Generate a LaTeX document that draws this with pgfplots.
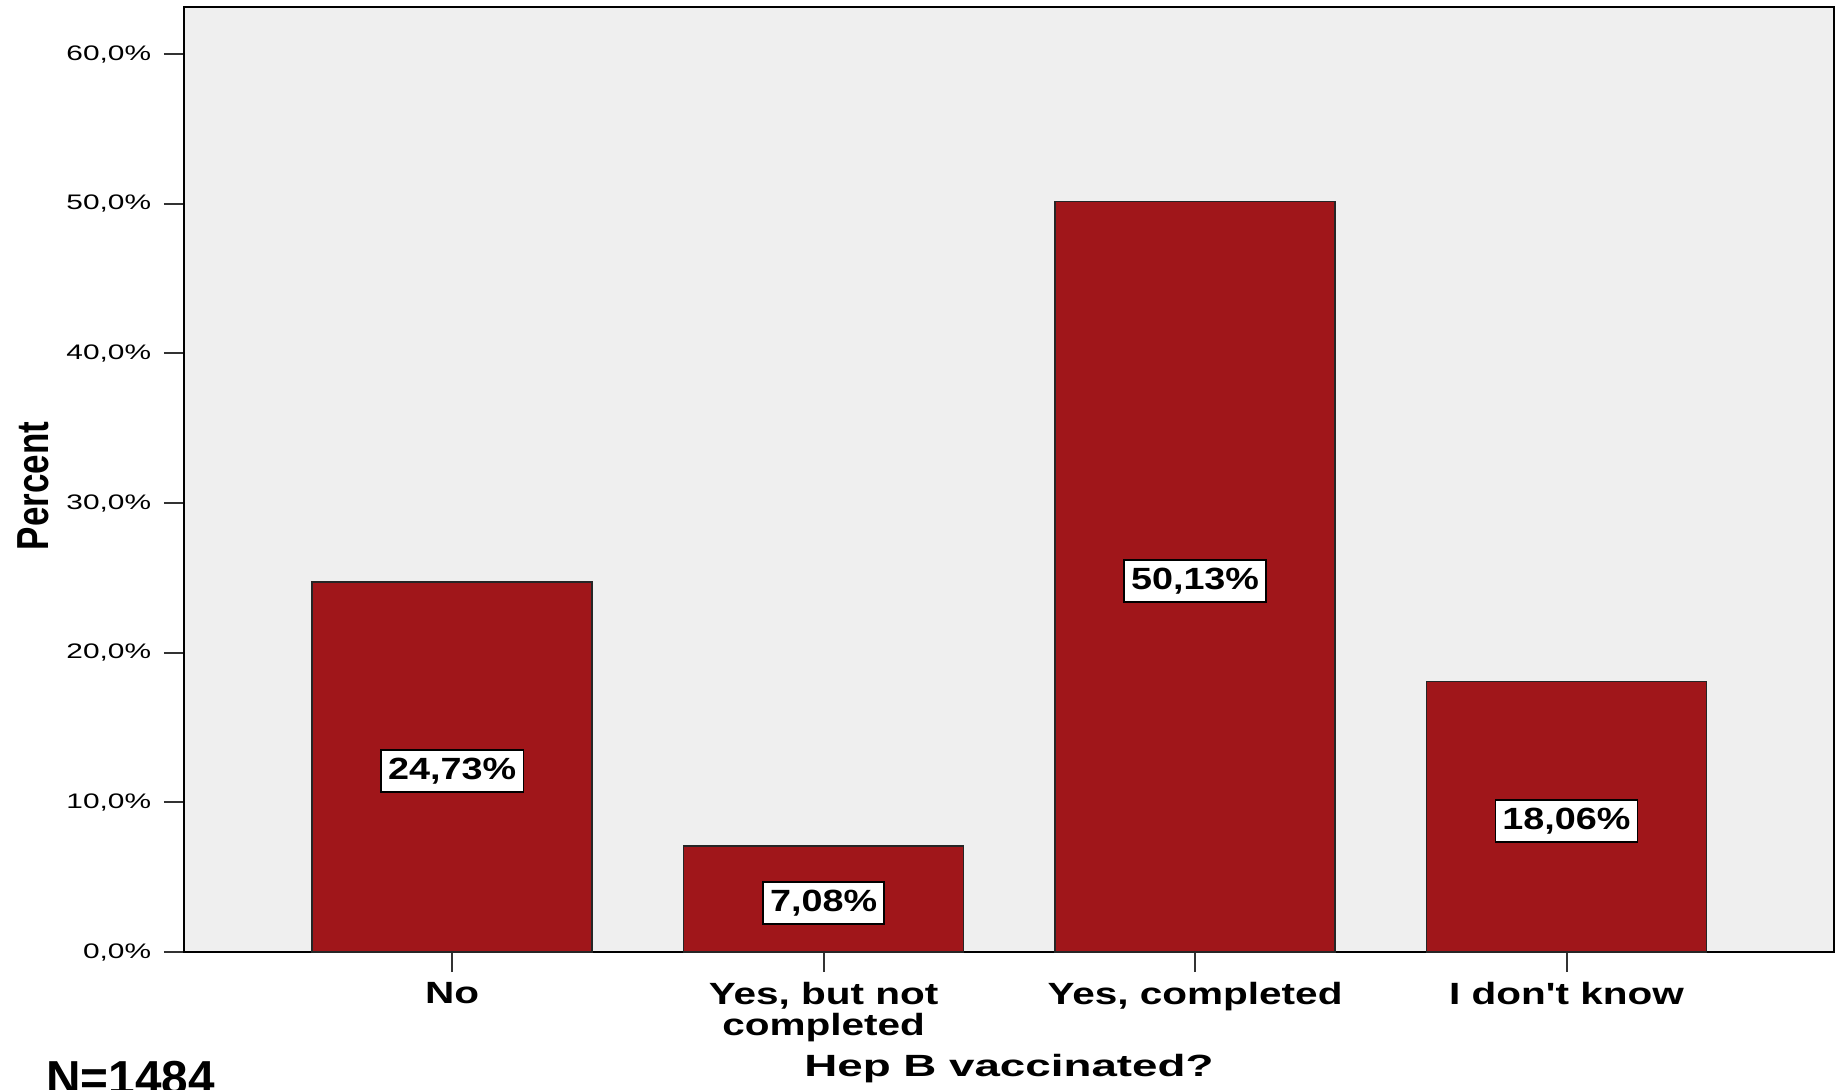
\documentclass[border=0pt]{standalone}
\usepackage{fontspec}
\setmainfont{Liberation Sans}
\usepackage{pgfplots}
\usepackage{pgfplotstable}
\pgfplotsset{compat=1.18}
\newfontfamily\tickfont{Liberation Sans}[FakeStretch=1.42]
\newfontfamily\catfont{Liberation Sans}[FakeStretch=1.32]
\newfontfamily\xlabfont{Liberation Sans}[FakeStretch=1.49]
\newfontfamily\barfont{Liberation Sans}[FakeStretch=1.23]
\newfontfamily\ylabfont{Liberation Sans}[FakeStretch=0.78]
\definecolor{barred}{HTML}{A0161A}
\definecolor{bggray}{HTML}{EFEFEF}
\pgfplotstableread{
x v
0 24.73
1 7.08
2 50.13
3 18.06
}\hepb
\begin{document}
\begin{tikzpicture}
\begin{axis}[
 name=ax,
 scale only axis,
 width=698.8pt, height=400.2pt,
 xmin=-0.722, xmax=3.72, ymin=0, ymax=63.14,
 axis background/.style={fill=bggray},
 axis line style={black, line width=0.85pt},
 xtick={0,1,2,3},
 xticklabels={No, {Yes, but not\\completed}, {Yes, completed}, {I don't know}},
 ytick={0,10,...,60},
 yticklabels={{0,0\%},{10,0\%},{20,0\%},{30,0\%},{40,0\%},{50,0\%},{60,0\%}},
 xtick pos=bottom, ytick pos=left,
 tick align=outside,
 major tick length=8.5pt,
 tick style={line width=0.85pt, color=black!80},
 xticklabel style={font=\catfont\bfseries\fontsize{13}{13}\selectfont, align=center, anchor=north, inner sep=0pt, yshift=-4.2pt},
 yticklabel style={font=\tickfont\fontsize{8.9}{10}\selectfont, anchor=east, inner sep=0pt, xshift=-5.2pt},
 xlabel={Hep B vaccinated?},
 xlabel style={font=\xlabfont\bfseries\fontsize{13}{15}\selectfont, at={([yshift=-52.9pt]rel axis cs:0.5,0)}, anchor=base, inner sep=0pt},
 ylabel={Percent},
 ylabel style={font=\ylabfont\bfseries\fontsize{19}{20}\selectfont, at={([xshift=-57.5pt]rel axis cs:0,0.4931)}, anchor=base, rotate=0, inner sep=0pt},
 clip=false,
]
\addplot[ybar, bar width=0.754, fill=barred, draw=black!85, line width=0.6pt] table[x=x, y=v] {\hepb};
\addplot[draw=none, mark=none, point meta=explicit,
  nodes near coords={\pgfmathprintnumber[fixed, fixed zerofill, precision=2, use comma, assume math mode=true]{\pgfplotspointmeta}\%},
  every node near coord/.style={anchor=center, yshift=-1.7pt, fill=white, draw=black, line width=0.6pt, inner xsep=3pt, inner ysep=3.3pt, font=\barfont\bfseries\fontsize{13}{15}\selectfont}]
  table[x=x, y expr=\thisrow{v}/2, meta=v] {\hepb};
\end{axis}
\node[font=\bfseries\fontsize{20.2}{22}\selectfont, anchor=base west, inner sep=0pt] at ([xshift=-58.5pt, yshift=-60.5pt]ax.south west) {N=1484};
\pgfresetboundingbox
\path[use as bounding box] ([xshift=-77.9pt,yshift=-58.4pt]ax.south west) rectangle ([xshift=1.3pt,yshift=3pt]ax.north east);
\end{tikzpicture}
\end{document}
